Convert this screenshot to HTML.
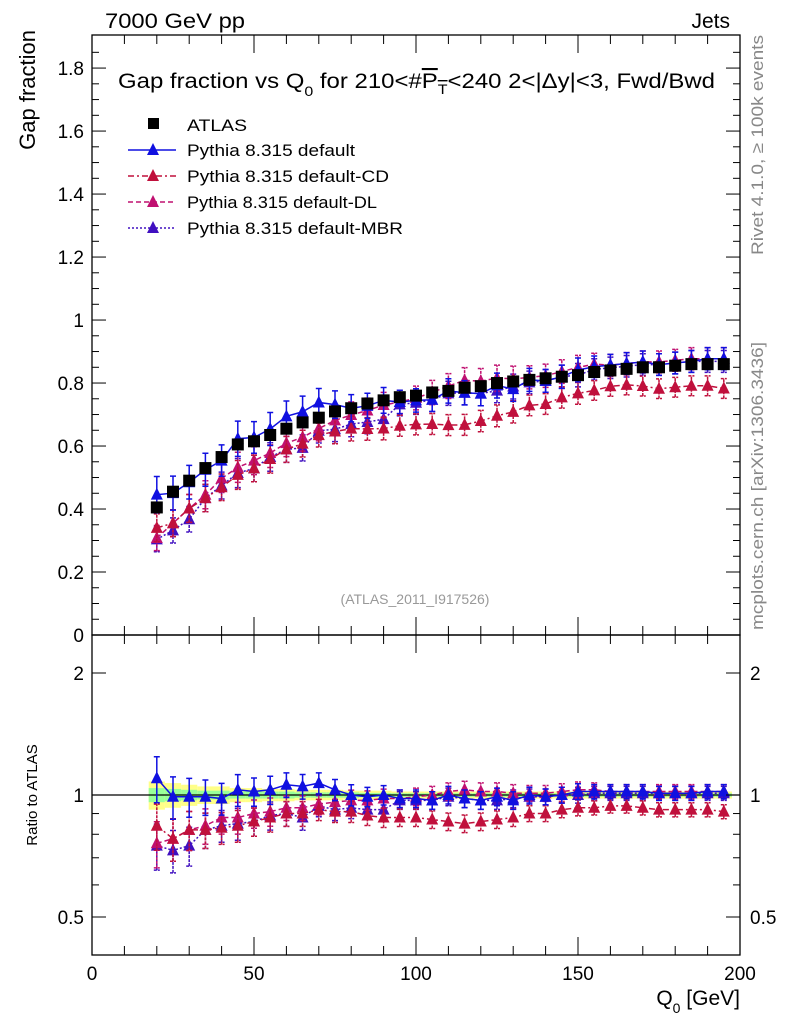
<!DOCTYPE html>
<html><head><meta charset="utf-8"><style>
body{margin:0;background:#fff;}
svg{display:block;font-family:"Liberation Sans",sans-serif;}
</style></head><body>
<svg id="c" width="786" height="1024" xmlns="http://www.w3.org/2000/svg">
<text x="105" y="28" font-size="21" textLength="140" lengthAdjust="spacingAndGlyphs">7000 GeV pp</text>
<text x="730" y="28" font-size="21" text-anchor="end">Jets</text>
<text x="118" y="88" font-size="21" textLength="597" lengthAdjust="spacingAndGlyphs">Gap fraction vs Q<tspan font-size="14" dy="8">0</tspan><tspan dy="-8"> for 210&lt;#</tspan><tspan text-decoration="overline">P<tspan font-size="14" dy="6">T</tspan></tspan><tspan dy="-6">&lt;240  2&lt;|Δy|&lt;3, Fwd/Bwd</tspan></text>
<text transform="translate(35,30) rotate(-90)" font-size="22" text-anchor="end">Gap fraction</text>
<text transform="translate(37,795) rotate(-90)" font-size="15" text-anchor="middle">Ratio to ATLAS</text>
<text x="740" y="1005" font-size="21" text-anchor="end">Q<tspan font-size="14" dy="8">0</tspan><tspan dy="-8"> [GeV]</tspan></text>
<text transform="translate(763,35) rotate(-90)" font-size="17" fill="#888" text-anchor="end" textLength="220" lengthAdjust="spacingAndGlyphs">Rivet 4.1.0, ≥ 100k events</text>
<text transform="translate(763,342) rotate(-90)" font-size="17" fill="#888" text-anchor="end" textLength="288" lengthAdjust="spacingAndGlyphs">mcplots.cern.ch [arXiv:1306.3436]</text>
<text x="415" y="604" font-size="14" fill="#999" text-anchor="middle">(ATLAS_2011_I917526)</text>
<g id="legend"></g>
<g id="plot"></g>
</svg>
<script>
const xs=[20,25,30,35,40,45,50,55,60,65,70,75,80,85,90,95,100,105,110,115,120,125,130,135,140,145,150,155,160,165,170,175,180,185,190,195];
const atlas=[0.405,0.455,0.49,0.53,0.565,0.605,0.615,0.635,0.655,0.675,0.69,0.71,0.72,0.735,0.745,0.755,0.76,0.77,0.775,0.785,0.79,0.80,0.805,0.81,0.815,0.82,0.825,0.835,0.84,0.845,0.85,0.85,0.855,0.86,0.86,0.86];
const bandOuter=[0.08,0.07,0.06,0.05,0.05,0.04,0.04,0.035,0.035,0.03,0.03,0.03,0.025,0.025,0.025,0.02,0.02,0.02,0.02,0.02,0.02,0.02,0.02,0.02,0.02,0.02,0.02,0.02,0.02,0.02,0.02,0.02,0.02,0.02,0.02,0.02];
const bandInner=[0.04,0.035,0.03,0.025,0.025,0.02,0.02,0.02,0.02,0.015,0.015,0.015,0.015,0.012,0.012,0.01,0.01,0.01,0.01,0.01,0.01,0.01,0.01,0.01,0.01,0.01,0.01,0.01,0.01,0.01,0.01,0.01,0.01,0.01,0.01,0.01];
const rDefault=[1.10,0.99,0.99,0.99,0.98,1.03,1.02,1.03,1.06,1.05,1.07,1.03,1.0,0.99,1.0,0.98,0.98,0.97,1.0,0.98,0.97,0.99,0.97,1.0,0.99,1.0,1.02,1.02,1.02,1.02,1.02,1.01,1.01,1.01,1.02,1.02];
const rCD=[0.84,0.78,0.82,0.82,0.83,0.84,0.86,0.88,0.90,0.90,0.92,0.91,0.91,0.89,0.88,0.88,0.88,0.87,0.86,0.85,0.86,0.87,0.88,0.90,0.90,0.92,0.93,0.93,0.94,0.94,0.93,0.92,0.92,0.92,0.92,0.91];
const rDL=[0.76,0.78,0.82,0.84,0.88,0.88,0.90,0.91,0.93,0.93,0.95,0.96,0.97,0.97,0.98,0.98,0.99,1.0,1.02,1.03,1.02,1.02,1.01,1.01,1.01,1.02,1.03,1.03,1.02,1.02,1.02,1.02,1.02,1.02,1.02,1.02];
const rMBR=[0.75,0.73,0.75,0.82,0.84,0.85,0.86,0.89,0.90,0.88,0.94,0.92,0.93,0.92,0.92,0.97,0.97,0.97,0.99,0.98,0.97,0.97,0.98,0.99,0.99,1.0,1.0,1.01,1.01,1.01,1.01,1.01,1.01,1.01,1.01,1.01];
const relErr=[0.13,0.12,0.11,0.10,0.09,0.09,0.08,0.08,0.07,0.07,0.06,0.06,0.06,0.055,0.055,0.05,0.05,0.05,0.05,0.05,0.05,0.05,0.05,0.045,0.045,0.045,0.045,0.04,0.04,0.04,0.04,0.04,0.04,0.04,0.04,0.04];
const yTicks=[0,0.2,0.4,0.6,0.8,1,1.2,1.4,1.6,1.8];
const yTickLabels=["0","0.2","0.4","0.6","0.8","1","1.2","1.4","1.6","1.8"];
const xTicks=[0,50,100,150,200];
const rTicks=[0.5,1,2];
const rTickLabels=["0.5","1","2"];

const NS="http://www.w3.org/2000/svg";
const L=92,R=740,T=35,M=635,B=955;
const X=v=>L+(R-L)*v/200;
const Y=v=>M-(M-T)*v/1.905;
const RY=v=>795-122*Math.log2(v);
const plot=document.getElementById('plot');
function el(tag,a,parent){const e=document.createElementNS(NS,tag);for(const k in a)e.setAttribute(k,a[k]);(parent||plot).appendChild(e);return e;}

xs.forEach((x,i)=>{
 let b=el('rect',{x:X(x-2.5),y:RY(1+bandOuter[i]),width:X(5)-X(0),height:RY(1-bandOuter[i])-RY(1+bandOuter[i]),fill:'#ffff88'});
 
 
 let g=el('rect',{x:X(x-2.5),y:RY(1+bandInner[i]),width:X(5)-X(0),height:RY(1-bandInner[i])-RY(1+bandInner[i]),fill:'#99ff99'});
 
 
});
let one=el('line',{x1:L,x2:R,y1:RY(1),y2:RY(1),stroke:'#000','stroke-width':1.3});



function tri(cx,cy,col,parent){return el('polygon',{points:`${cx},${cy-7} ${cx-6},${cy+5} ${cx+6},${cy+5}`,fill:col},parent);}
const series=[
 {name:'default',r:rDefault,col:'#1010e0',dash:'',label:'Pythia 8.315 default'},
 {name:'default-cd',r:rCD,col:'#c0103c',dash:'6,3,2,3',label:'Pythia 8.315 default-CD'},
 {name:'default-dl',r:rDL,col:'#c01070',dash:'5,3',label:'Pythia 8.315 default-DL'},
 {name:'default-mbr',r:rMBR,col:'#4010c0',dash:'2,2',label:'Pythia 8.315 default-MBR'}
];
series.slice().reverse().forEach(s=>{
 const g=el('g',{});
 
 
 const vals=s.r.map((r,i)=>r*atlas[i]);
 el('polyline',{points:xs.map((x,i)=>X(x)+','+Y(vals[i])).join(' '),fill:'none',stroke:s.col,'stroke-width':1.5,'stroke-dasharray':s.dash},g);
 el('polyline',{points:xs.map((x,i)=>X(x)+','+RY(s.r[i])).join(' '),fill:'none',stroke:s.col,'stroke-width':1.5,'stroke-dasharray':s.dash},g);
 xs.forEach((x,i)=>{
  const v=vals[i],e=v*relErr[i];
  el('path',{d:`M${X(x)},${Y(v-e)}V${Y(v+e)}M${X(x)-3},${Y(v-e)}h6M${X(x)-3},${Y(v+e)}h6`,stroke:s.col,'stroke-width':1.5,fill:'none','stroke-dasharray':s.dash?'3,1':''},g);
  const p=tri(X(x),Y(v),s.col,g);
  
  
  const r=s.r[i],re=r*relErr[i];
  el('path',{d:`M${X(x)},${RY(r-re)}V${RY(r+re)}M${X(x)-3},${RY(r-re)}h6M${X(x)-3},${RY(r+re)}h6`,stroke:s.col,'stroke-width':1.5,fill:'none','stroke-dasharray':s.dash?'3,1':''},g);
  const q=tri(X(x),RY(r),s.col,g);
  
  
 });
});
xs.forEach((x,i)=>{
 const s=el('rect',{x:X(x)-6,y:Y(atlas[i])-6,width:12,height:12,fill:'#000'});
 
 
});

[[T,M],[M,B]].forEach(([t,b])=>{
 const f=el('rect',{x:L,y:t,width:R-L,height:b-t,fill:'none',stroke:'#000','stroke-width':1.3});
 
 
});
for(let v=0;v<=1.9;v+=0.05){const maj=Math.abs(v*5-Math.round(v*5))<1e-6;const len=maj?14:7;
 el('line',{x1:L,x2:L+len,y1:Y(v),y2:Y(v),stroke:'#000'});el('line',{x1:R,x2:R-len,y1:Y(v),y2:Y(v),stroke:'#000'});}
yTicks.forEach((v,i)=>{const t=el('text',{x:L-8,y:Y(v)+7,'font-size':19,'text-anchor':'end'});t.textContent=yTickLabels[i];
 
 });
for(let v=0;v<=200;v+=10){const maj=v%50==0;const len=maj?18:9;
 [[T,1],[M,-1],[M,1],[B,-1]].forEach(([y0,d])=>el('line',{x1:X(v),x2:X(v),y1:y0,y2:y0+d*len,stroke:'#000'}));}
xTicks.forEach(v=>{const t=el('text',{x:X(v),y:980,'font-size':19,'text-anchor':'middle'});t.textContent=v;
 
 });
[0.5,0.6,0.7,0.8,0.9,1,2].forEach(v=>{const maj=rTicks.includes(v);const len=maj?14:7;
 el('line',{x1:L,x2:L+len,y1:RY(v),y2:RY(v),stroke:'#000'});el('line',{x1:R,x2:R-len,y1:RY(v),y2:RY(v),stroke:'#000'});});
rTicks.forEach((v,i)=>{[[L-8,'end'],[R+10,'start']].forEach(([x,a])=>{const t=el('text',{x:x,y:RY(v)+7,'font-size':19,'text-anchor':a});t.textContent=rTickLabels[i];
 
 });});

const lg=document.getElementById('legend');
el('rect',{x:148,y:118,width:11,height:11,fill:'#000'},lg);
let t0=el('text',{x:187,y:131,'font-size':17,textLength:60,lengthAdjust:'spacingAndGlyphs'},lg);t0.textContent='ATLAS';


const legLens=[168,202,190,216];
series.forEach((s,i)=>{const y=150+i*26;
 el('line',{x1:128,x2:176,y1:y,y2:y,stroke:s.col,'stroke-width':1.5,'stroke-dasharray':s.dash},lg);
 tri(153,y,s.col,lg);
 const t=el('text',{x:187,y:y+6,'font-size':17,textLength:legLens[i],lengthAdjust:'spacingAndGlyphs'},lg);t.textContent=s.label;
 
 
});
</script>
</body></html>
